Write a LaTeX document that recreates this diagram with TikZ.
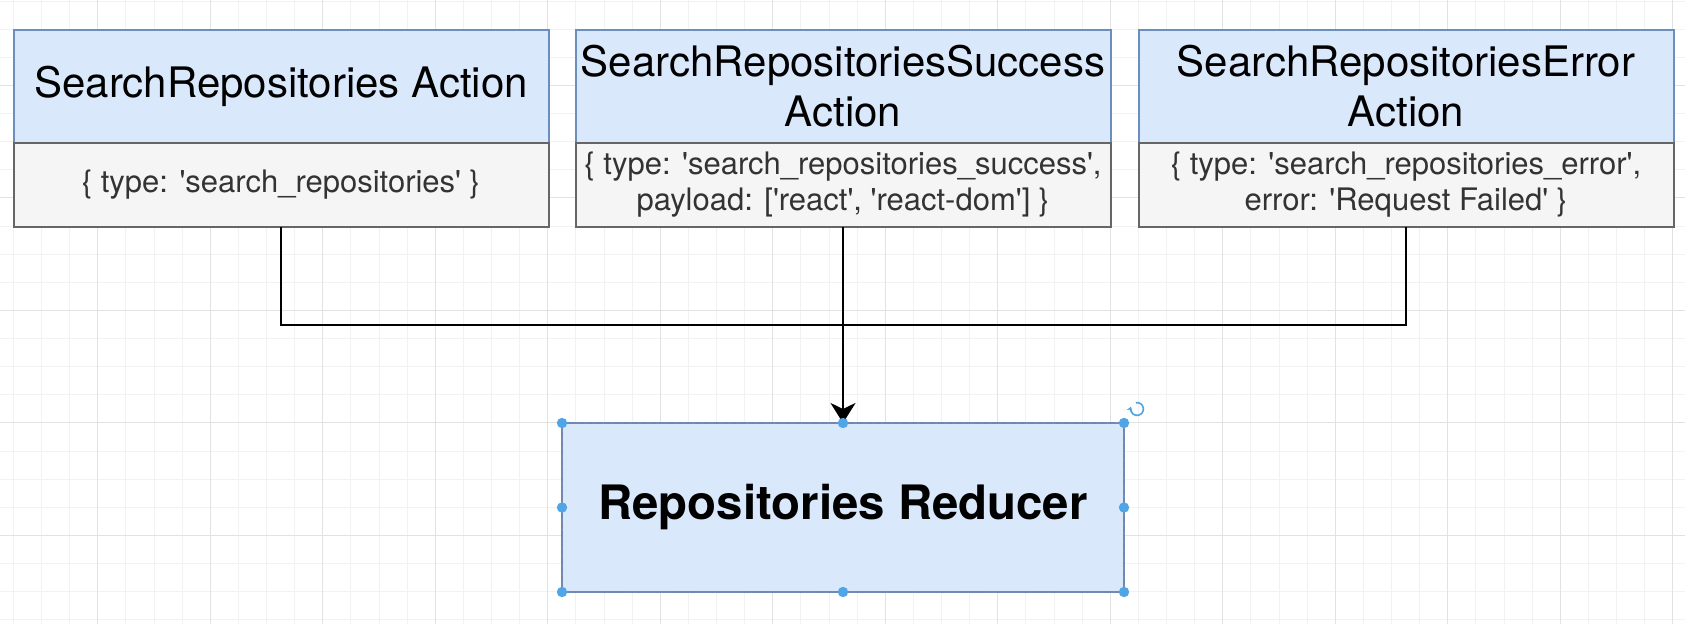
\documentclass[tikz,border=0pt]{standalone}
\usepackage{fontspec}
\setmainfont{TeX Gyre Heros}[Ligatures=TeXOff]
\usepackage{xcolor}
\usepackage{tikz}
\usetikzlibrary{arrows.meta, positioning, calc}

\definecolor{hdrfill}{HTML}{DAE8FC}
\definecolor{hdrline}{HTML}{6C8EBF}
\definecolor{bodyfill}{HTML}{F5F5F5}
\definecolor{bodyline}{HTML}{666666}
\definecolor{bodytext}{HTML}{333333}
\definecolor{gridminor}{HTML}{F2F2F2}
\definecolor{gridmajor}{HTML}{E2E2E2}
\definecolor{handleblue}{RGB}{80,165,230}
\definecolor{selline}{RGB}{115,135,170}

\tikzset{
    header/.style={draw=hdrline, fill=hdrfill, line width=1pt, outer sep=0pt, inner sep=0pt,
        minimum width=267.5pt, minimum height=56.5pt, align=center,
        font=\fontsize{21}{25}\selectfont},
    body/.style={draw=bodyline, fill=bodyfill, text=bodytext, line width=1pt, outer sep=0pt, inner sep=0pt,
        minimum width=267.5pt, minimum height=42pt, align=center,
        font=\fontsize{15.5}{18}\selectfont},
    reducer/.style={draw=hdrline, fill=hdrfill, line width=1pt, outer sep=0pt, inner sep=0pt,
        minimum width=281pt, minimum height=84.5pt,
        font=\fontsize{23.7}{28}\selectfont\bfseries},
    wire/.style={black, line width=1.25pt},
    handle/.style={fill=handleblue},
}

\begin{document}
\begin{tikzpicture}[x=0.5pt, y=-0.5pt]
    \useasboundingbox (0,0) rectangle (1685,624);
    % grid
    \fill[white] (0,0) rectangle (1685,624);
    \foreach \k in {0,...,59}
        \draw[gridminor, line width=0.5pt] ({13.4+28.125*\k},0) -- ({13.4+28.125*\k},624);
    \foreach \k in {0,...,22}
        \draw[gridminor, line width=0.5pt] (0,{1.1+28.125*\k}) -- (1685,{1.1+28.125*\k});
    \foreach \k in {0,...,14}
        \draw[gridmajor, line width=0.5pt] ({97.8+112.5*\k},0) -- ({97.8+112.5*\k},624);
    \foreach \k in {0,...,4}
        \draw[gridmajor, line width=0.5pt] (0,{85.5+112.5*\k}) -- (1685,{85.5+112.5*\k});

    % actions
    \node[header] (h1) at (281,86.5) {SearchRepositories Action};
    \node[body, below=0pt of h1] (b1) {\{ type: 'search\_repositories' \}};

    \node[header] (h2) at (843,86.5) {SearchRepositoriesSuccess\\Action};
    \node[body, below=0pt of h2] (b2) {\{ type: 'search\_repositories\_success',\\payload: ['react', 'react-dom'] \}};

    \node[header] (h3) at (1406,86.5) {SearchRepositoriesError\\Action};
    \node[body, below=0pt of h3] (b3) {\{ type: 'search\_repositories\_error',\\error: 'Request Failed' \}};

    % reducer
    \node[reducer] (red) at (843,507.5) {Repositories Reducer};
    \draw[selline, line width=1pt, dash pattern=on 3pt off 1.5pt] (red.north west) rectangle (red.south east);

    % connectors
    \coordinate (join) at (843,325);
    \draw[wire] (b1.south) |- (join);
    \draw[wire] (b3.south) |- (join);
    \draw[wire, -{Stealth[length=10pt, width=12.5pt, inset=3pt]}] (b2.south) -- (red.north);

    % selection handles
    \foreach \a in {north west, north, north east, east, south east, south, south west, west}
        \fill[handle] (red.\a) circle (2.6pt);
    \coordinate (rot) at (1137,409);
    \draw[handleblue, line width=0.8pt, -{Stealth[length=2.2pt, width=3pt]}]
        ([shift={(100:3.2pt)}]rot) arc (100:-200:3.2pt);
\end{tikzpicture}
\end{document}
